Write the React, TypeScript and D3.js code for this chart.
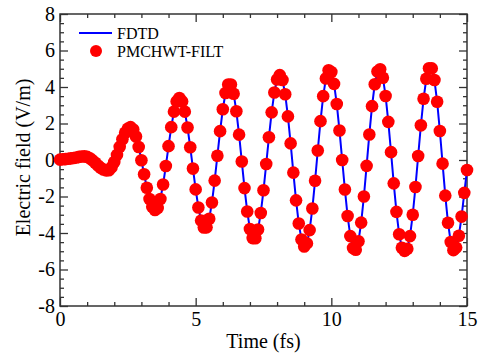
import { useEffect, useRef } from 'react'
import * as d3 from 'd3'

const TIME_FS = [
  0.0, 0.1, 0.2, 0.3, 0.4, 0.5, 0.6, 0.7, 0.8, 0.9,
  1.0, 1.1, 1.2, 1.3, 1.4, 1.5, 1.6, 1.7, 1.8, 1.9,
  2.0, 2.1, 2.2, 2.3, 2.4, 2.5, 2.6, 2.7, 2.8, 2.9,
  3.0, 3.1, 3.2, 3.3, 3.4, 3.5, 3.6, 3.7, 3.8, 3.9,
  4.0, 4.1, 4.2, 4.3, 4.4, 4.5, 4.6, 4.7, 4.8, 4.9,
  5.0, 5.1, 5.2, 5.3, 5.4, 5.5, 5.6, 5.7, 5.8, 5.9,
  6.0, 6.1, 6.2, 6.3, 6.4, 6.5, 6.6, 6.7, 6.8, 6.9,
  7.0, 7.1, 7.2, 7.3, 7.4, 7.5, 7.6, 7.7, 7.8, 7.9,
  8.0, 8.1, 8.2, 8.3, 8.4, 8.5, 8.6, 8.7, 8.8, 8.9,
  9.0, 9.1, 9.2, 9.3, 9.4, 9.5, 9.6, 9.7, 9.8, 9.9,
  10.0, 10.1, 10.2, 10.3, 10.4, 10.5, 10.6, 10.7, 10.8, 10.9,
  11.0, 11.1, 11.2, 11.3, 11.4, 11.5, 11.6, 11.7, 11.8, 11.9,
  12.0, 12.1, 12.2, 12.3, 12.4, 12.5, 12.6, 12.7, 12.8, 12.9,
  13.0, 13.1, 13.2, 13.3, 13.4, 13.5, 13.6, 13.7, 13.8, 13.9,
  14.0, 14.1, 14.2, 14.3, 14.4, 14.5, 14.6, 14.7, 14.8, 14.9,
  15.0,
]

const FIELD = [
  0.02, 0.04, 0.05, 0.07, 0.09, 0.11, 0.14, 0.17, 0.19, 0.2,
  0.17, 0.1, -0.02, -0.15, -0.3, -0.43, -0.52, -0.57, -0.56, -0.4,
  -0.11, 0.28, 0.72, 1.14, 1.49, 1.72, 1.8, 1.67, 1.29, 0.71,
  -0.01, -0.78, -1.52, -2.14, -2.56, -2.74, -2.63, -2.14, -1.34, -0.33,
  0.76, 1.8, 2.65, 3.21, 3.4, 3.21, 2.65, 1.78, 0.7, -0.47,
  -1.61, -2.6, -3.32, -3.7, -3.69, -3.22, -2.33, -1.13, 0.23, 1.58,
  2.78, 3.67, 4.14, 4.14, 3.63, 2.67, 1.39, -0.08, -1.54, -2.82,
  -3.78, -4.28, -4.29, -3.81, -2.9, -1.66, -0.22, 1.25, 2.61, 3.7,
  4.41, 4.65, 4.38, 3.6, 2.39, 0.91, -0.69, -2.21, -3.48, -4.36,
  -4.74, -4.57, -3.84, -2.66, -1.14, 0.52, 2.13, 3.5, 4.47, 4.92,
  4.82, 4.17, 3.07, 1.62, 0.0, -1.62, -3.07, -4.17, -4.82, -4.92,
  -4.45, -3.43, -2.0, -0.32, 1.4, 2.95, 4.15, 4.85, 4.97, 4.51,
  3.51, 2.09, 0.43, -1.28, -2.84, -4.07, -4.81, -4.98, -4.86, -4.17,
  -3.0, -1.48, 0.22, 1.9, 3.36, 4.45, 5.03, 5.02, 4.38, 3.19,
  1.59, -0.2, -1.95, -3.44, -4.49, -4.94, -4.8, -4.15, -3.1, -1.8,
  -0.55,
]

const X_MAJOR = [0, 5, 10, 15]
const X_MINOR = [1, 2, 3, 4, 6, 7, 8, 9, 11, 12, 13, 14]
const Y_MAJOR = [-8, -6, -4, -2, 0, 2, 4, 6, 8]
const Y_MINOR = [
  -7.5, -7, -6.5, -5.5, -5, -4.5, -3.5, -3, -2.5, -1.5, -1, -0.5,
  0.5, 1, 1.5, 2.5, 3, 3.5, 4.5, 5, 5.5, 6.5, 7, 7.5,
]

const LINE_LABEL = 'FDTD'
const DOT_LABEL = 'PMCHWT-FILT'

const FONT = 'Liberation Serif, Tinos, DejaVu Serif, serif'
const AXIS_COLOR = '#333'
const BLUE = '#0000ff'
const RED = '#ff0000'

export default function App() {
  const svgRef = useRef<SVGSVGElement>(null)

  useEffect(() => {
    const svgEl = svgRef.current
    if (!svgEl) return

    const totalW = 481
    const totalH = 354
    const margin = { top: 14, right: 14, bottom: 48, left: 60 }
    const W = totalW - margin.left - margin.right
    const H = totalH - margin.top - margin.bottom

    d3.select(svgEl).selectAll('*').remove()
    d3.select(svgEl).attr('width', totalW).attr('height', totalH)

    const root = d3.select(svgEl)
    const svg = root.append('g').attr('transform', `translate(${margin.left},${margin.top})`)

    const xScale = d3.scaleLinear().domain([0, 15]).range([0, W])
    const yScale = d3.scaleLinear().domain([-8, 8]).range([H, 0])

    const styleAxis = (ax: d3.Selection<SVGGElement, unknown, null, undefined>) => {
      ax.attr('font-family', FONT)
      ax.select('.domain').remove()
      ax.selectAll('.tick line').attr('stroke', AXIS_COLOR).attr('stroke-width', 1.3)
      ax.selectAll('.tick text').style('font-family', FONT).attr('font-size', 20).attr('fill', '#000')
    }

    // bottom + top
    svg.append('g').attr('transform', `translate(0,${H})`)
      .call(d3.axisBottom(xScale).tickValues(X_MAJOR).tickSize(-8).tickPadding(6).tickFormat(v => String(v)))
      .call(styleAxis)
    svg.append('g').attr('transform', `translate(0,${H})`)
      .call(d3.axisBottom(xScale).tickValues(X_MINOR).tickSize(-4).tickFormat(() => ''))
      .call(styleAxis)
    svg.append('g')
      .call(d3.axisTop(xScale).tickValues(X_MAJOR).tickSize(-8).tickFormat(() => ''))
      .call(styleAxis)
    svg.append('g')
      .call(d3.axisTop(xScale).tickValues(X_MINOR).tickSize(-4).tickFormat(() => ''))
      .call(styleAxis)

    // left + right
    svg.append('g')
      .call(d3.axisLeft(yScale).tickValues(Y_MAJOR).tickSize(-8).tickPadding(5).tickFormat(v => String(v)))
      .call(styleAxis)
    svg.append('g')
      .call(d3.axisLeft(yScale).tickValues(Y_MINOR).tickSize(-4).tickFormat(() => ''))
      .call(styleAxis)
    svg.append('g').attr('transform', `translate(${W},0)`)
      .call(d3.axisRight(yScale).tickValues(Y_MAJOR).tickSize(-8).tickFormat(() => ''))
      .call(styleAxis)
    svg.append('g').attr('transform', `translate(${W},0)`)
      .call(d3.axisRight(yScale).tickValues(Y_MINOR).tickSize(-4).tickFormat(() => ''))
      .call(styleAxis)

    svg.append('rect')
      .attr('x', 0).attr('y', 0).attr('width', W).attr('height', H)
      .attr('fill', 'none').attr('stroke', AXIS_COLOR).attr('stroke-width', 1.5)

    // FDTD line
    const line = d3.line<number>()
      .x((_, i) => xScale(TIME_FS[i]))
      .y(d => yScale(d))
    svg.append('path')
      .datum(FIELD)
      .attr('d', line)
      .attr('fill', 'none').attr('stroke', BLUE).attr('stroke-width', 2)

    // PMCHWT-FILT dots
    svg.selectAll('.dot')
      .data(FIELD).enter().append('circle')
      .attr('class', 'dot')
      .attr('cx', (_, i) => xScale(TIME_FS[i]))
      .attr('cy', d => yScale(d))
      .attr('r', 6.3)
      .attr('fill', RED)

    // axis titles
    svg.append('text')
      .attr('x', W / 2).attr('y', H + 42).attr('text-anchor', 'middle')
      .style('font-family', FONT).attr('font-size', 20).attr('fill', '#000')
      .text('Time (fs)')
    svg.append('text')
      .attr('transform', 'rotate(-90)')
      .attr('x', -(157.5 - margin.top)).attr('y', -30).attr('text-anchor', 'middle')
      .style('font-family', FONT).attr('font-size', 20).attr('fill', '#000')
      .text('Electric field (V/m)')

    // legend
    const leg = root.append('g')
    leg.append('line')
      .attr('x1', 79).attr('x2', 112).attr('y1', 33).attr('y2', 33)
      .attr('stroke', BLUE).attr('stroke-width', 2)
    leg.append('text')
      .attr('x', 117).attr('y', 38.5)
      .style('font-family', FONT).attr('font-size', 16).attr('fill', '#000')
      .text(LINE_LABEL)
    leg.append('circle')
      .attr('cx', 96).attr('cy', 51).attr('r', 6).attr('fill', RED)
    leg.append('text')
      .attr('x', 117).attr('y', 56.5)
      .style('font-family', FONT).attr('font-size', 16).attr('fill', '#000')
      .text(DOT_LABEL)
  }, [])

  return (
    <div style={{ position: 'absolute', left: 0, top: 0, background: '#fff' }}>
      <svg ref={svgRef} style={{ display: 'block' }} />
    </div>
  )
}
